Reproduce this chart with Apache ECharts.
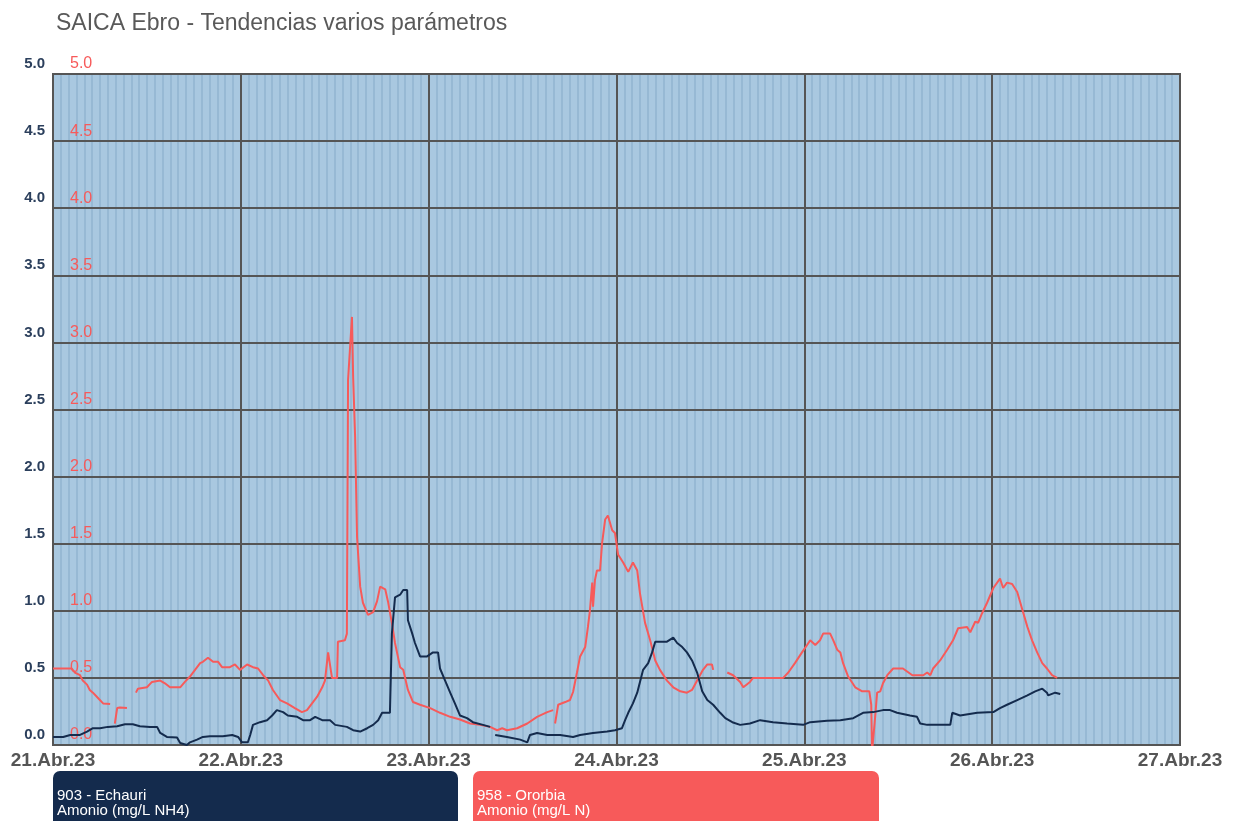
<!DOCTYPE html>
<html>
<head>
<meta charset="utf-8">
<title>SAICA Ebro - Tendencias varios parámetros</title>
<script src="https://cdn.jsdelivr.net/npm/echarts@6/dist/echarts.min.js"></script>
<style>
  html, body { margin: 0; padding: 0; background: #ffffff; }
  #chart { width: 1241px; height: 821px; }
</style>
</head>
<body>
<div id="chart"></div>
<script>
// Period shown: 21 to 27 April 2023, one tick per day
const startDay = [2023, 3, 21];
const dayCount = 6;
const monthLabel = 'Abr';
const yearLabel = '23';

// Y axis ticks (same scale for both stations)
const yTicks = [0.0, 0.5, 1.0, 1.5, 2.0, 2.5, 3.0, 3.5, 4.0, 4.5, 5.0];

// Station names and units
const stationEchauri = ['903 - Echauri', 'Amonio (mg/L NH4)'];
const stationOrorbia = ['958 - Ororbia', 'Amonio (mg/L N)'];

// Echauri ammonium: [hours since 21 Apr 00:00, mg/L]; null = no data
const echauriData = [
  [0,0.06],[1.3,0.06],[2.2,0.075],[3.45,0.075],[4.35,0.10],[5.1,0.125],[6.0,0.125],[7.0,0.135],[8.2,0.14],[9.2,0.155],
  [10.2,0.155],[11.1,0.14],[12.4,0.135],[13.3,0.135],[13.7,0.09],[14.55,0.06],[15.85,0.055],[16.25,0.015],[17.1,0.0],[17.5,0.02],
  [18.4,0.04],[19.15,0.06],[20.05,0.065],[21.7,0.065],[22.9,0.075],[23.65,0.06],[24.15,0.02],[24.9,0.02],[25.2,0.075],[25.55,0.15],
  [26.45,0.17],[27.35,0.185],[28.0,0.22],[28.6,0.26],[29.4,0.245],[30.0,0.22],[31.2,0.21],[31.95,0.185],[32.85,0.185],[33.5,0.21],
  [34.4,0.185],[35.4,0.185],[36.05,0.15],[37.55,0.135],[38.35,0.11],[39.25,0.10],[40.15,0.125],[40.9,0.15],[41.55,0.185],[42.05,0.24],
  [43.05,0.24],[43.3,0.83],[43.7,1.10],[44.35,1.12],[44.75,1.155],[45.25,1.155],[45.35,0.93],[45.9,0.83],[46.25,0.76],[46.9,0.66],
  [47.8,0.66],[48.55,0.69],[49.2,0.69],[49.45,0.57],[50.1,0.48],[50.75,0.39],[51.35,0.31],[52.0,0.22],[52.9,0.20],[53.65,0.17],
  [54.95,0.15],[55.85,0.135],[56.2,null],[56.5,0.075],[58.0,0.06],[59.7,0.04],[60.6,0.02],[60.95,0.075],[61.85,0.09],[63.15,0.075],
  [64.8,0.075],[66.45,0.06],[67.35,0.075],[69.0,0.09],[70.8,0.10],[71.8,0.11],[72.7,0.125],[73.1,0.185],[73.5,0.24],[74.1,0.31],
  [74.65,0.39],[75.0,0.47],[75.4,0.56],[76.05,0.61],[76.55,0.69],[76.95,0.77],[78.45,0.77],[79.25,0.80],[79.75,0.76],[80.4,0.73],
  [81.0,0.69],[81.65,0.63],[82.3,0.54],[82.95,0.40],[83.6,0.335],[84.35,0.30],[85.25,0.24],[85.9,0.20],[86.8,0.17],[87.8,0.15],
  [89.05,0.16],[90.35,0.185],[92.0,0.17],[93.8,0.16],[95.85,0.15],[96.75,0.17],[98.9,0.18],[100.6,0.185],[102.25,0.20],[103.5,0.24],
  [104.8,0.245],[106.05,0.26],[106.95,0.26],[107.85,0.24],[109.5,0.22],[110.4,0.21],[110.8,0.16],[111.7,0.15],[114.65,0.15],[114.9,0.24],
  [115.9,0.22],[118.1,0.24],[120.15,0.245],[121.0,0.275],[121.9,0.30],[123.2,0.335],[124.5,0.37],[125.5,0.40],[126.4,0.42],[127.0,0.39],
  [127.15,0.37],[128.05,0.39],[128.7,0.38]
];

// Ororbia ammonium: [hours since 21 Apr 00:00, mg/L]; null = no data
const ororbiaData = [
  [0,0.57],[2.4,0.57],[2.8,0.54],[3.45,0.52],[3.8,0.48],[4.35,0.45],[4.7,0.41],[5.1,0.39],[5.75,0.35],[6.4,0.31],
  [7.3,0.305],[7.6,null],[7.9,0.16],[8.2,0.275],[8.55,0.28],[9.45,0.275],[10.0,null],[10.6,0.39],[10.85,0.42],[12.0,0.43],
  [12.65,0.47],[13.7,0.48],[14.3,0.46],[14.95,0.43],[16.25,0.43],[16.85,0.47],[17.5,0.51],[18.15,0.56],[18.8,0.61],[19.15,0.62],
  [19.8,0.65],[20.45,0.62],[21.1,0.62],[21.6,0.58],[22.6,0.58],[23.25,0.60],[23.9,0.56],[24.8,0.60],[25.55,0.58],[26.2,0.57],
  [26.85,0.52],[27.5,0.48],[28.1,0.41],[29.0,0.335],[29.9,0.31],[30.9,0.275],[31.8,0.245],[32.45,0.26],[33.1,0.31],[33.75,0.36],
  [34.4,0.43],[34.75,0.48],[35.15,0.69],[35.65,0.50],[36.3,0.50],[36.4,0.77],[37.3,0.78],[37.55,0.83],[37.7,2.72],[38.2,3.19],
  [38.35,2.74],[38.6,2.30],[38.85,1.55],[39.25,1.18],[39.6,1.06],[40.25,0.97],[40.9,0.99],[41.4,1.07],[41.8,1.18],[42.45,1.16],
  [42.8,1.07],[43.3,0.91],[43.7,0.76],[44.35,0.58],[44.75,0.56],[45.35,0.41],[46.0,0.32],[46.9,0.30],[48.2,0.275],[49.45,0.24],
  [50.75,0.21],[52.0,0.19],[53.3,0.16],[54.55,0.15],[55.85,0.135],[56.75,0.11],[57.4,0.125],[58.0,0.11],[59.3,0.125],[60.6,0.16],
  [61.85,0.21],[63.15,0.245],[63.9,0.26],[64.0,null],[64.15,0.16],[64.55,0.30],[65.45,0.32],[66.05,0.335],[66.45,0.395],[66.95,0.54],
  [67.35,0.66],[68.0,0.73],[68.35,0.88],[68.6,1.0],[68.9,1.21],[69.0,1.03],[69.25,1.23],[69.5,1.30],[69.9,1.30],[70.15,1.50],
  [70.55,1.68],[70.9,1.71],[71.45,1.60],[71.8,1.58],[72.2,1.42],[72.85,1.36],[73.5,1.29],[74.1,1.36],[74.65,1.30],[75.0,1.13],
  [75.65,0.91],[76.3,0.78],[76.95,0.63],[77.55,0.56],[78.45,0.48],[79.25,0.43],[80.15,0.40],[81.0,0.39],[81.65,0.41],[82.3,0.48],
  [83.05,0.56],[83.6,0.60],[84.2,0.60],[84.35,0.56],[85.2,null],[86.15,0.54],[86.9,0.52],[87.8,0.47],[88.2,0.43],[89.05,0.47],
  [89.45,0.50],[93.3,0.50],[93.95,0.54],[94.8,0.61],[95.7,0.69],[96.35,0.745],[96.75,0.78],[97.4,0.745],[98.0,0.78],[98.4,0.83],
  [99.3,0.83],[99.7,0.78],[100.2,0.71],[100.6,0.69],[100.95,0.61],[101.6,0.51],[102.5,0.43],[103.4,0.40],[104.3,0.40],[104.55,0.30],
  [104.65,-0.05],[104.9,-0.05],[105.05,0.21],[105.3,0.39],[105.7,0.40],[106.05,0.46],[106.6,0.52],[107.35,0.57],[108.6,0.57],[109.8,0.52],
  [111.2,0.52],[111.7,0.54],[112.1,0.52],[112.45,0.57],[113.35,0.63],[114.25,0.71],[115.0,0.78],[115.65,0.87],[116.8,0.88],[117.2,0.84],
  [117.85,0.92],[118.2,0.91],[118.7,0.98],[119.35,1.06],[120.15,1.17],[121.0,1.24],[121.4,1.17],[121.9,1.21],[122.55,1.20],[123.2,1.14],
  [123.85,1.01],[124.5,0.88],[125.1,0.78],[125.75,0.69],[126.4,0.61],[127.0,0.57],[127.65,0.52],[128.3,0.50]
];

const DAY = 86400000, HOUR = 3600000;
const t0 = new Date(startDay[0], startDay[1], startDay[2]).getTime();
const toSeries = rows => rows.map(([h, v]) => [t0 + h * HOUR, v]);

const navy = '#142b4d';
const red = '#f75a5a';
const gridDark = '#555555';
const fontFam = '"Liberation Sans", Arial, sans-serif';

const chart = echarts.init(document.getElementById('chart'), null, { renderer: 'canvas' });

const legendBox = (x, w, fill, lines) => ({
  type: 'group', left: x, top: 771,
  children: [
    { type: 'rect', shape: { x: 0, y: 0, width: w, height: 60, r: 7 }, style: { fill } },
    { type: 'text', x: 4, y: 17, style: { text: lines.join('\n'), fill: '#ffffff',
      font: '15px ' + fontFam, lineHeight: 15 } }
  ]
});

chart.setOption({
  animation: false,
  backgroundColor: '#ffffff',
  title: {
    text: 'SAICA Ebro - Tendencias varios parámetros',
    left: 51, top: 7,
    textStyle: { color: '#595959', fontSize: 23, fontWeight: 'normal', fontFamily: fontFam }
  },
  grid: {
    left: 53, right: 61, top: 74, bottom: 76,
    show: true, backgroundColor: '#a9c8e0', borderColor: gridDark, borderWidth: 2
  },
  xAxis: {
    type: 'time', z: 0,
    min: t0, max: t0 + dayCount * DAY,
    interval: DAY, minInterval: DAY, maxInterval: DAY,
    axisLine: { show: false },
    axisTick: { show: false },
    axisLabel: {
      margin: 6, showMinLabel: true, showMaxLabel: true,
      color: '#555555', fontSize: 19, fontWeight: 'bold', fontFamily: fontFam,
      formatter: v => {
        const d = new Date(v);
        return String(d.getDate()).padStart(2, '0') + '.' + monthLabel + '.' + yearLabel;
      }
    },
    splitLine: { show: true, lineStyle: { color: gridDark, width: 2, type: 'solid' } },
    minorTick: { show: false, splitNumber: 24 },
    minorSplitLine: { show: true, lineStyle: { color: '#92b4d1', width: 1.5, type: 'solid' } }
  },
  yAxis: [
    {
      type: 'value', z: 1, min: yTicks[0], max: yTicks[yTicks.length - 1], interval: yTicks[1] - yTicks[0],
      position: 'left',
      axisLine: { show: false }, axisTick: { show: false },
      axisLabel: {
        margin: 8, color: '#2b3f5c', fontSize: 15, fontWeight: 'bold', verticalAlign: 'bottom',
        lineHeight: 20, fontFamily: fontFam,
        formatter: v => v.toFixed(1)
      },
      splitLine: { show: true, lineStyle: { color: gridDark, width: 2, type: 'solid' } }
    },
    {
      type: 'value', z: 1, min: yTicks[0], max: yTicks[yTicks.length - 1], interval: yTicks[1] - yTicks[0],
      position: 'left',
      axisLine: { show: false }, axisTick: { show: false },
      axisLabel: {
        inside: true, margin: 17, color: red, fontSize: 16, verticalAlign: 'bottom',
        lineHeight: 20, fontFamily: fontFam,
        formatter: v => v.toFixed(1)
      },
      splitLine: { show: false }
    }
  ],
  series: [
    {
      name: stationOrorbia.join(' '), type: 'line', yAxisIndex: 1,
      data: toSeries(ororbiaData), showSymbol: false, connectNulls: false,
      lineStyle: { color: red, width: 2 }, itemStyle: { color: red }, z: 3
    },
    {
      name: stationEchauri.join(' '), type: 'line', yAxisIndex: 0,
      data: toSeries(echauriData), showSymbol: false, connectNulls: false,
      lineStyle: { color: navy, width: 2 }, itemStyle: { color: navy }, z: 4
    }
  ],
  graphic: [
    legendBox(53, 405, navy, stationEchauri),
    legendBox(473, 406, red, stationOrorbia)
  ]
});
</script>
</body>
</html>
